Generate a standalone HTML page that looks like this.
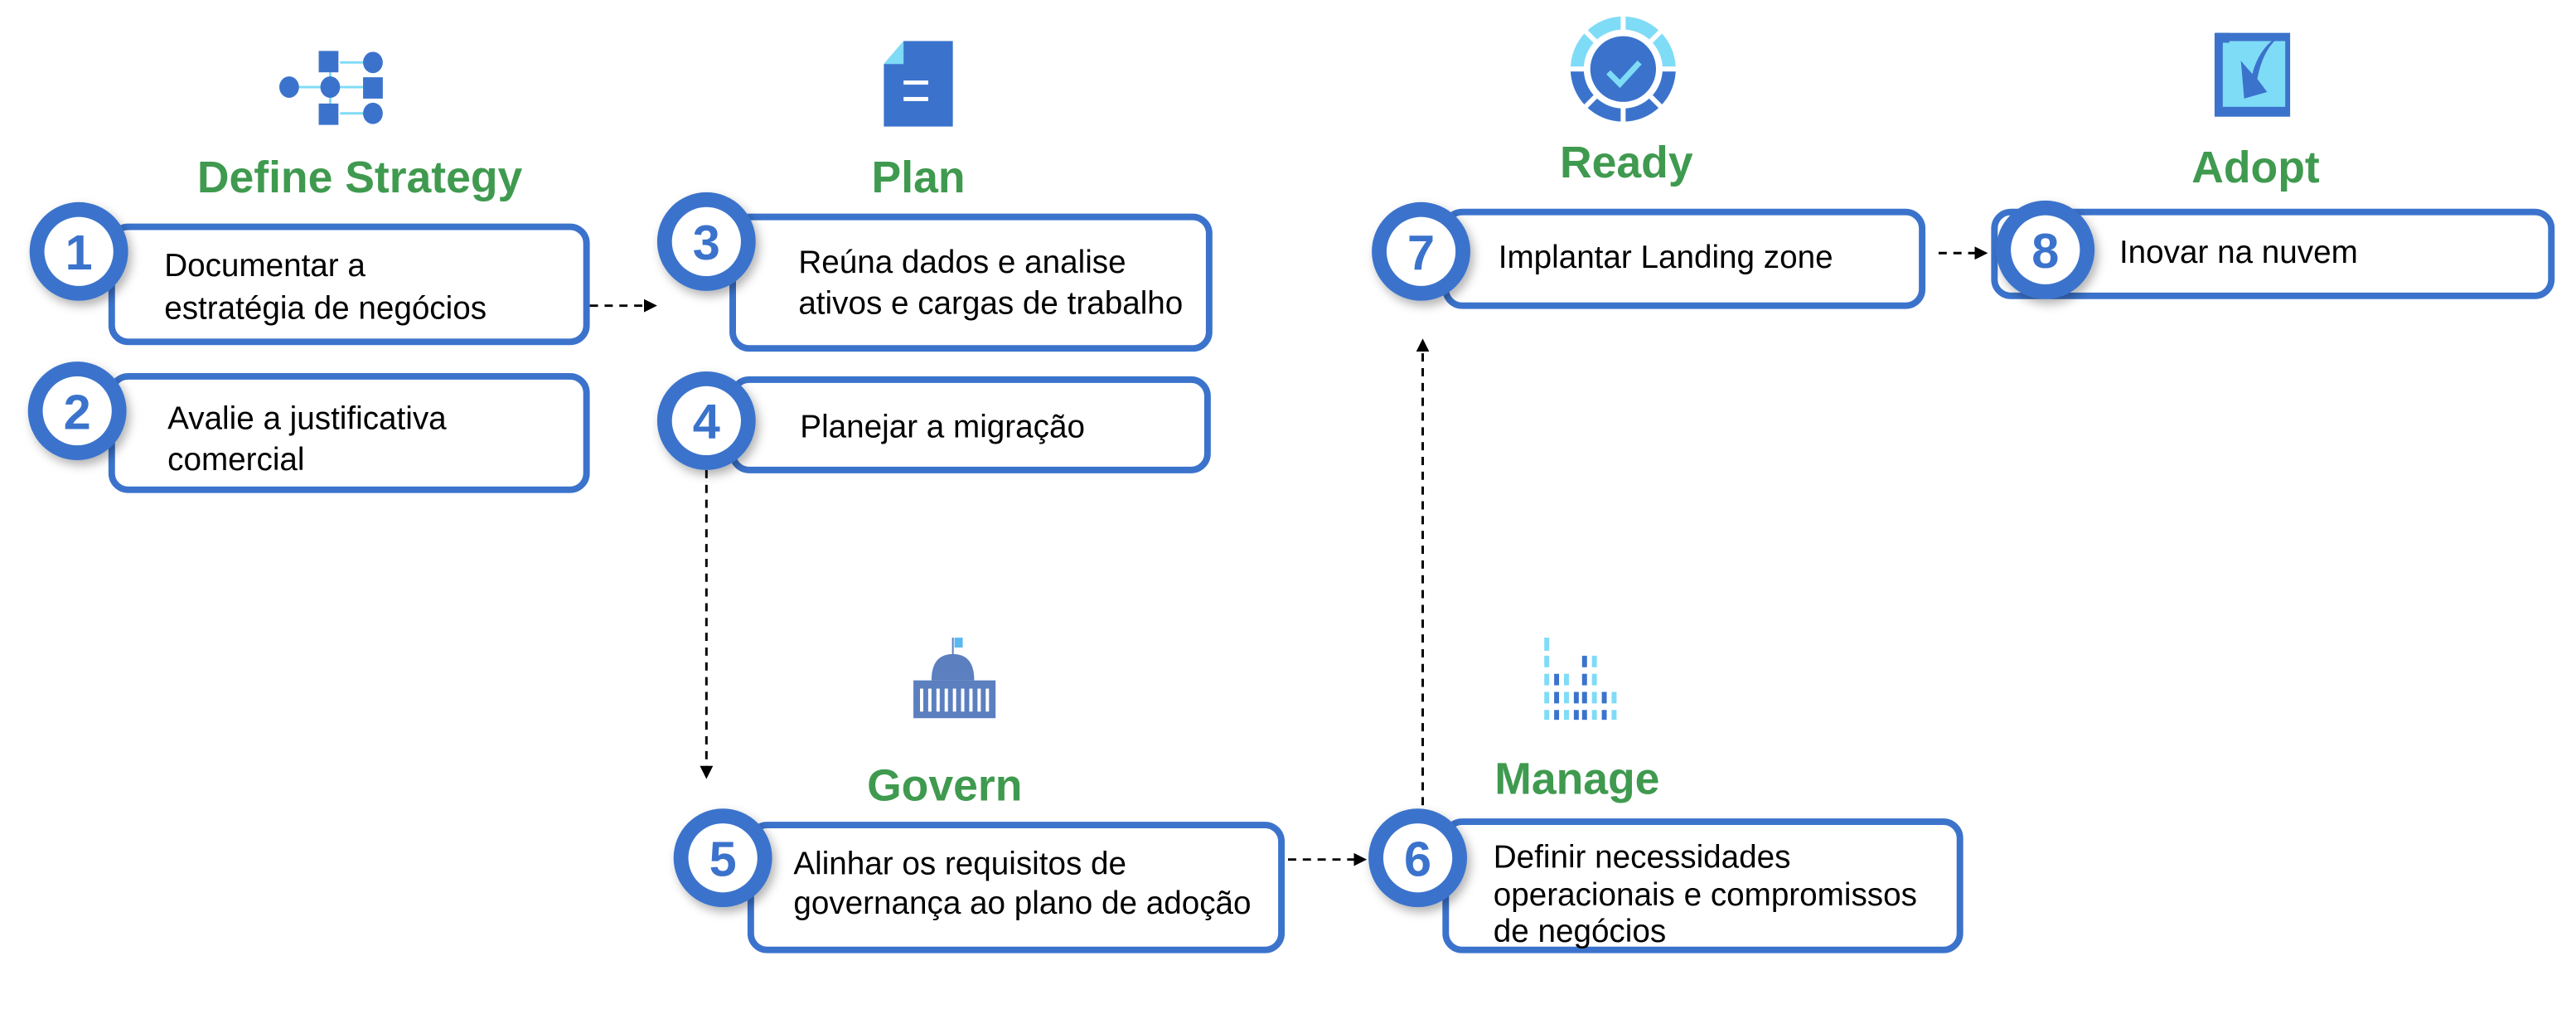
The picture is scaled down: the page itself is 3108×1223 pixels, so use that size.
<!DOCTYPE html>
<html><head><meta charset="utf-8"><style>
html,body{margin:0;padding:0;background:#fff;width:3108px;height:1223px;overflow:hidden}
svg{display:block}
.t{font-family:"Liberation Sans",sans-serif;font-size:19.5px;fill:#000}
.h{font-family:"Liberation Sans",sans-serif;font-size:27px;font-weight:bold;fill:#3f9a4f;text-anchor:middle}
.n{font-family:"Liberation Sans",sans-serif;font-size:30px;font-weight:bold;fill:#3b73cc;text-anchor:middle}
.box{fill:#fff;stroke:#3b73cc;stroke-width:4}
.dash{stroke:#000;stroke-width:1.5;stroke-dasharray:5,4;fill:none}
</style></head><body>
<svg width="3108" height="1223" viewBox="0 0 1568 617" preserveAspectRatio="none">
<defs>
<filter id="sh" x="-30%" y="-30%" width="160%" height="160%"><feDropShadow dx="2" dy="3" stdDeviation="3" flood-color="#000" flood-opacity="0.3"/></filter>
<marker id="ah" markerWidth="8" markerHeight="8" refX="6" refY="4" orient="auto" markerUnits="userSpaceOnUse"><path d="M0,0 L8,4 L0,8 Z" fill="#000"/></marker>
</defs>

<line class="dash" x1="359" y1="186" x2="398" y2="186" marker-end="url(#ah)"/>
<line class="dash" x1="430" y1="286" x2="430" y2="472" marker-end="url(#ah)"/>
<line class="dash" x1="784" y1="523" x2="830" y2="523" marker-end="url(#ah)"/>
<line class="dash" x1="866" y1="490" x2="866" y2="208" marker-end="url(#ah)"/>
<line class="dash" x1="1180" y1="154" x2="1208" y2="154" marker-end="url(#ah)"/>

<g fill="#3b73cc">
<g stroke="#7fdcf7" stroke-width="1.5"><line x1="207" y1="38" x2="222" y2="38"/><line x1="176" y1="53" x2="196" y2="53"/><line x1="207" y1="53" x2="222" y2="53"/><line x1="207" y1="69" x2="222" y2="69"/><line x1="201" y1="43" x2="201" y2="64"/></g>
<rect x="194" y="31" width="12" height="13"/><ellipse cx="227" cy="38" rx="6" ry="6.5"/>
<ellipse cx="176" cy="53" rx="6" ry="6.5"/><ellipse cx="201" cy="53" rx="6" ry="6.5"/><rect x="221" y="47" width="12" height="13"/>
<rect x="194" y="63" width="12" height="13"/><ellipse cx="227" cy="69" rx="6" ry="6.5"/>
</g>
<g>
<path d="M550,25 L580,25 L580,77 L538,77 L538,39 Z" fill="#3b73cc"/>
<path d="M550,25 L550,39 L538,39 Z" fill="#7fdcf7"/>
<rect x="550" y="49" width="15" height="2.5" fill="#fff"/><rect x="550" y="59" width="15" height="2.5" fill="#fff"/>
</g>
<g>
<circle cx="988" cy="42" r="28" fill="none" stroke="#7fdcf7" stroke-width="8"/>
<path d="M960,42 A28,28 0 0 0 1016,42" fill="none" stroke="#3b73cc" stroke-width="8"/>
<g stroke="#fff" stroke-width="3"><line x1="988" y1="8" x2="988" y2="76"/><line x1="954" y1="42" x2="1022" y2="42"/><line x1="964" y1="18" x2="1012" y2="66"/><line x1="1012" y1="18" x2="964" y2="66"/></g>
<circle cx="988" cy="42" r="20" fill="#3b73cc"/>
<path d="M979,44 L986,51 L998,38" fill="none" stroke="#7fdcf7" stroke-width="3.5"/>
</g>
<g>
<rect x="1348" y="20" width="46" height="51" fill="#3b73cc"/>
<rect x="1353" y="25" width="38" height="40" fill="#7fdcf7"/>
<rect x="1349" y="20" width="8" height="6" fill="#3b73cc"/>
<path d="M1391,20 C1380,26 1376,38 1374,48 L1380,56 L1366,60 L1364,37 L1371,45 C1374,33 1381,24 1391,20 Z" fill="#3b73cc"/>
</g>
<g fill="#5b7fbf">
<rect x="581" y="388" width="5" height="6" fill="#5ab9f0"/><line x1="580" y1="388" x2="580" y2="403" stroke="#5b7fbf" stroke-width="1"/>
<path d="M567,414 Q567,398 580,398 Q593,398 593,414 Z"/>
<rect x="556" y="414" width="50" height="23"/>
<g fill="#fff"><rect x="560" y="419" width="2" height="14"/><rect x="565" y="419" width="2" height="14"/><rect x="570" y="419" width="2" height="14"/><rect x="575" y="419" width="2" height="14"/><rect x="580" y="419" width="2" height="14"/><rect x="585" y="419" width="2" height="14"/><rect x="590" y="419" width="2" height="14"/><rect x="595" y="419" width="2" height="14"/><rect x="600" y="419" width="2" height="14"/></g>
</g>
<g>
<g fill="#7fdcf7">
<rect x="940" y="388" width="3" height="8"/><rect x="940" y="399" width="3" height="7"/><rect x="940" y="410" width="3" height="7"/><rect x="940" y="421" width="3" height="7"/><rect x="940" y="432" width="3" height="6"/>
<rect x="952" y="410" width="3" height="7"/><rect x="952" y="421" width="3" height="7"/><rect x="952" y="432" width="3" height="6"/>
<rect x="969" y="399" width="3" height="7"/><rect x="969" y="410" width="3" height="7"/><rect x="969" y="421" width="3" height="7"/><rect x="969" y="432" width="3" height="6"/>
<rect x="981" y="421" width="3" height="7"/><rect x="981" y="432" width="3" height="6"/>
</g>
<g fill="#3b73cc">
<rect x="946" y="410" width="3" height="7"/><rect x="946" y="421" width="3" height="7"/><rect x="946" y="432" width="3" height="6"/>
<rect x="963" y="399" width="3" height="7"/><rect x="963" y="410" width="3" height="7"/><rect x="963" y="421" width="3" height="7"/><rect x="963" y="432" width="3" height="6"/>
<rect x="958" y="421" width="3" height="7"/><rect x="958" y="432" width="3" height="6"/>
<rect x="975" y="421" width="3" height="7"/><rect x="975" y="432" width="3" height="6"/>
</g>
</g>

<text class="h" x="219" y="117">Define Strategy</text>
<text class="h" x="559" y="117">Plan</text>
<text class="h" x="990" y="108">Ready</text>
<text class="h" x="1373" y="111">Adopt</text>
<text class="h" x="575" y="487">Govern</text>
<text class="h" x="960" y="483">Manage</text>

<g>
<rect class="box" x="68" y="138" width="289" height="70" rx="10"/>
<circle cx="48" cy="153" r="30" fill="#3b73cc" filter="url(#sh)"/><circle cx="48" cy="153" r="21" fill="#fff"/>
<text class="n" x="48" y="164">1</text>
<text class="t" x="100" y="168">Documentar a</text><text class="t" x="100" y="194">estratégia de negócios</text>
</g>
<g>
<rect class="box" x="68" y="229" width="289" height="69" rx="10"/>
<circle cx="47" cy="250" r="30" fill="#3b73cc" filter="url(#sh)"/><circle cx="47" cy="250" r="21" fill="#fff"/>
<text class="n" x="47" y="261">2</text>
<text class="t" x="102" y="261">Avalie a justificativa</text><text class="t" x="102" y="286">comercial</text>
</g>
<g>
<rect class="box" x="446" y="132" width="290" height="80" rx="10"/>
<circle cx="430" cy="147" r="30" fill="#3b73cc" filter="url(#sh)"/><circle cx="430" cy="147" r="21" fill="#fff"/>
<text class="n" x="430" y="158">3</text>
<text class="t" x="486" y="166">Reúna dados e analise</text><text class="t" x="486" y="191">ativos e cargas de trabalho</text>
</g>
<g>
<rect class="box" x="446" y="231" width="289" height="55" rx="10"/>
<circle cx="430" cy="256" r="30" fill="#3b73cc" filter="url(#sh)"/><circle cx="430" cy="256" r="21" fill="#fff"/>
<text class="n" x="430" y="267">4</text>
<text class="t" x="487" y="266">Planejar a migração</text>
</g>
<g>
<rect class="box" x="457" y="502" width="323" height="76" rx="10"/>
<circle cx="440" cy="522" r="30" fill="#3b73cc" filter="url(#sh)"/><circle cx="440" cy="522" r="21" fill="#fff"/>
<text class="n" x="440" y="533">5</text>
<text class="t" x="483" y="532">Alinhar os requisitos de</text><text class="t" x="483" y="556">governança ao plano de adoção</text>
</g>
<g>
<rect class="box" x="880" y="500" width="313" height="78" rx="10"/>
<circle cx="863" cy="522" r="30" fill="#3b73cc" filter="url(#sh)"/><circle cx="863" cy="522" r="21" fill="#fff"/>
<text class="n" x="863" y="533">6</text>
<text class="t" x="909" y="528">Definir necessidades</text><text class="t" x="909" y="551">operacionais e compromissos</text><text class="t" x="909" y="573">de negócios</text>
</g>
<g>
<rect class="box" x="880" y="129" width="290" height="57" rx="10"/>
<circle cx="865" cy="153" r="30" fill="#3b73cc" filter="url(#sh)"/><circle cx="865" cy="153" r="21" fill="#fff"/>
<text class="n" x="865" y="164">7</text>
<text class="t" x="912" y="163">Implantar Landing zone</text>
</g>
<g>
<rect class="box" x="1214" y="129" width="339" height="51" rx="10"/>
<circle cx="1245" cy="152" r="30" fill="#3b73cc" filter="url(#sh)"/><circle cx="1245" cy="152" r="21" fill="#fff"/>
<text class="n" x="1245" y="163">8</text>
<text class="t" x="1290" y="160">Inovar na nuvem</text>
</g>
</svg>
</body></html>
